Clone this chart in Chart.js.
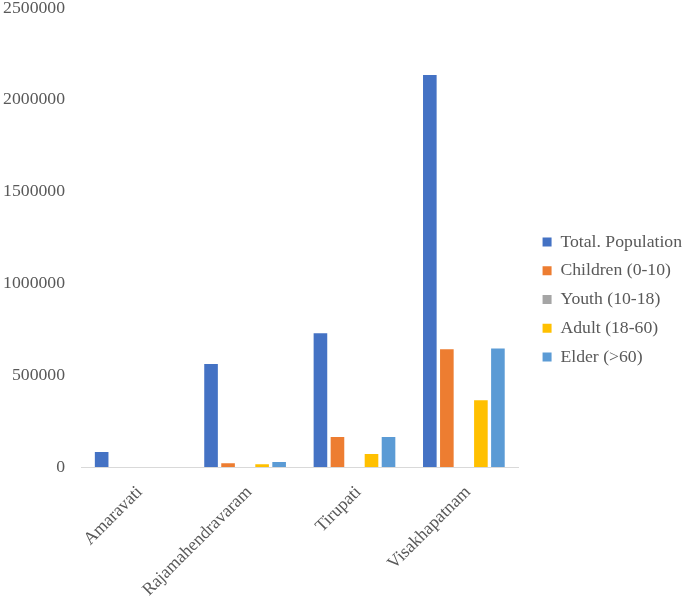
<!DOCTYPE html>
<html>
<head>
<meta charset="utf-8">
<script src="https://cdn.jsdelivr.net/npm/chart.js@4.4.1/dist/chart.umd.min.js"></script>
<style>
html,body{margin:0;padding:0;background:#fff;}
#wrap{width:685px;height:599px;position:relative;}
</style>
</head>
<body>
<div id="wrap"><canvas id="c"></canvas></div>
<script>
const categories = ["Amaravati", "Rajamahendravaram", "Tirupati", "Visakhapatnam"];
const seriesNames = ["Total. Population", "Children (0-10)", "Youth (10-18)", "Adult (18-60)", "Elder (>60)"];
const totalPopulation = [82000, 561000, 728000, 2135000];
const children = [0, 20000, 163000, 641000];
const youth = [0, 0, 0, 0];
const adult = [0, 15000, 71000, 363000];
const elder = [0, 27000, 163000, 646000];
const yTicks = [0, 500000, 1000000, 1500000, 2000000, 2500000];
const colors = ["#4472C4", "#ED7D31", "#A5A5A5", "#FFC000", "#5B9BD5"];

const allSeries = [totalPopulation, children, youth, adult, elder];
const FONT = '"Liberation Serif", "Times New Roman", serif';
const TXT = '#595959';
const FS = 17.7;

const legendShift = {
  id: 'legendShift',
  afterLayout(chart) {
    const l = chart.legend;
    if (l) { l.left += 13; l.right += 13; }
  }
};

new Chart(document.getElementById('c'), {
  type: 'bar',
  data: {
    labels: categories,
    datasets: allSeries.map((d, i) => ({
      label: seriesNames[i],
      data: d,
      backgroundColor: colors[i],
      borderWidth: 0,
      categoryPercentage: 0.778,
      barPercentage: 0.8
    }))
  },
  plugins: [legendShift],
  options: {
    responsive: true,
    maintainAspectRatio: false,
    animation: false,
    layout: { padding: { top: 0, right: 6, left: 0, bottom: 0 } },
    plugins: {
      tooltip: { enabled: false },
      legend: {
        position: 'right',
        labels: {
          boxWidth: 9,
          boxHeight: 9,
          padding: 11,
          color: TXT,
          font: { family: FONT, size: FS }
        }
      }
    },
    scales: {
      x: {
        grid: { display: false, drawTicks: false },
        border: { display: true, color: '#d9d9d9', width: 1 },
        afterFit: (axis) => { axis.height = 132; axis.paddingLeft = 0; axis.paddingRight = 0; },
        ticks: {
          color: TXT,
          font: { family: FONT, size: FS },
          maxRotation: 45,
          minRotation: 45,
          padding: 15,
          labelOffset: 4
        }
      },
      y: {
        min: 0,
        max: yTicks[yTicks.length - 1],
        afterBuildTicks: (axis) => { axis.ticks = yTicks.map(v => ({ value: v })); },
        afterFit: (axis) => { axis.width = 81; axis.paddingTop = 8; axis.paddingBottom = 0; },
        grid: { display: false, drawTicks: false },
        border: { display: false },
        ticks: {
          color: TXT,
          font: { family: FONT, size: FS },
          padding: 16,
          callback: (v) => String(v)
        }
      }
    }
  }
});
</script>
</body>
</html>
